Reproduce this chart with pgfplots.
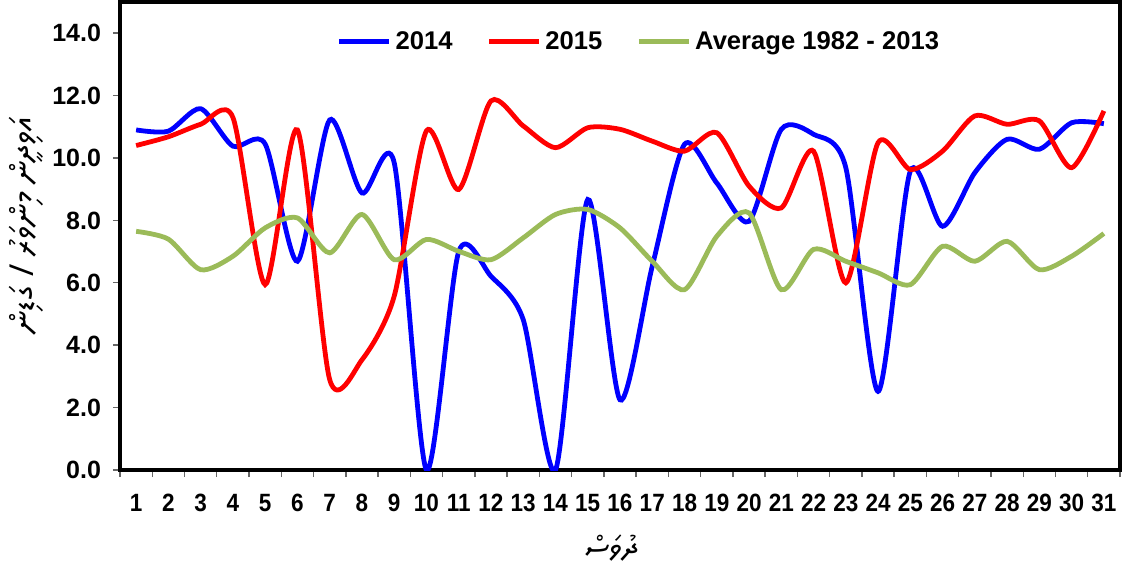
\documentclass[border=0pt]{standalone}
\usepackage{fontspec}
\setmainfont{Liberation Sans}
\TeXXeTstate=1
\IfFontExistsTF{Noto Sans Thaana}{\newfontfamily\thaana[Script=Thaana]{Noto Sans Thaana}}{\IfFontExistsTF{FreeSerif}{\newfontfamily\thaana[Script=Thaana]{FreeSerif}}{\newfontfamily\thaana{DejaVu Sans}}}
\usepackage{pgfplots}
\pgfplotsset{compat=1.18}
\usepackage{pgfplotstable}
\definecolor{avg}{RGB}{155,187,89}

\pgfplotstableread{
d b r a
1 10.90 10.40 7.65
2 10.86 10.68 7.40
3 11.58 11.08 6.42
4 10.38 11.30 6.85
5 10.45 5.94 7.76
6 6.69 10.90 8.08
7 11.22 2.90 6.96
8 8.88 3.53 8.19
9 9.85 5.57 6.74
10 0.00 10.87 7.39
11 7.00 8.99 7.01
12 6.21 11.83 6.74
13 4.82 11.03 7.44
14 0.00 10.33 8.19
15 8.67 10.97 8.35
16 2.25 10.92 7.76
17 6.53 10.54 6.69
18 10.44 10.22 5.78
19 9.20 10.81 7.49
20 7.97 9.10 8.24
21 10.92 8.40 5.78
22 10.76 10.22 7.07
23 9.69 6.00 6.69
24 2.52 10.49 6.32
25 9.58 9.63 5.94
26 7.81 10.22 7.17
27 9.53 11.35 6.69
28 10.60 11.08 7.33
29 10.28 11.19 6.42
30 11.13 9.69 6.85
31 11.10 11.51 7.58
}\data

\begin{document}
\begin{tikzpicture}
\begin{axis}[
  name=ax,
  scale only axis, width=500pt, height=234pt,
  xmin=0.5, xmax=31.5, ymin=0, ymax=15,
  xtick={1,...,31},
  minor xtick={0.5,1.5,...,31.5},
  ytick={0,2,...,14},
  major x tick style={draw=none},
  tick align=outside, xtick pos=bottom, ytick pos=left,
  major tick length=3.5pt, minor tick length=3.5pt,
  tick style={black!60, line width=0.7pt},
  axis line style={line width=1.9pt},
  /pgf/number format/assume math mode=true,
  ticklabel style={font=\bfseries\fontsize{12.5}{14}\selectfont},
  xticklabel style={yshift=-5pt, xscale=0.9},
  yticklabel style={xshift=-2.5pt, /pgf/number format/.cd, fixed, fixed zerofill, precision=1},
  xlabel={\thaana\bfseries\fontsize{16}{18}\selectfont\beginR ދުވަސް\endR},
  ylabel={\thaana\bfseries\fontsize{16.5}{18}\selectfont\beginR އަވިދީން މިންވަރު / ގަޑިން\endR},
  xlabel style={at={(axis description cs:0.491,-0.167)}, anchor=center},
  ylabel style={at={(axis description cs:-0.094,0.523)}, anchor=center, rotate=0},
  legend style={at={(0.52,0.915)}, anchor=center, draw=none, fill=none,
    legend columns=3, font=\bfseries\fontsize{12.8}{14}\selectfont,
    nodes={inner sep=2pt},
    /tikz/every even column/.append style={column sep=15pt}},
  legend image code/.code={\draw[#1] (0pt,0pt) -- (25pt,0pt);},
]
\addplot[blue, line width=2.4pt, smooth, tension=0.45] table[x=d,y=b]{\data};
\addlegendentry{2014}
\addplot[red, line width=2.4pt, smooth, tension=0.45] table[x=d,y=r]{\data};
\addlegendentry{2015}
\addplot[avg, line width=2.4pt, smooth, tension=0.45] table[x=d,y=a]{\data};
\addlegendentry{Average 1982 - 2013}
\end{axis}
\path ([xshift=-60pt,yshift=-51.5pt]ax.south west) rectangle ([xshift=2.5pt,yshift=1pt]ax.north east);
\end{tikzpicture}
\end{document}
